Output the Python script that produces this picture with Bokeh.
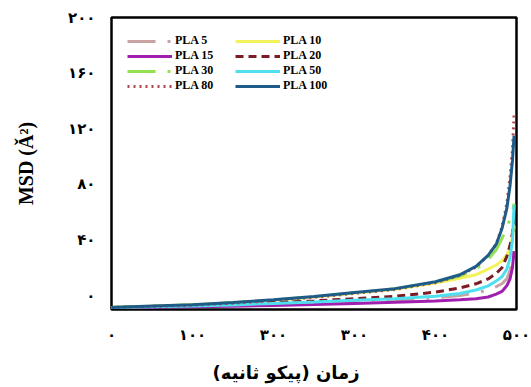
from bokeh.plotting import figure
from bokeh.models import Legend, LegendItem, FixedTicker, Title, Range1d
from bokeh.embed import file_html
from bokeh.resources import INLINE

# ---- data ----
time_ps = [0, 50, 100, 150, 200, 250, 300, 350, 400, 430, 450, 465, 475, 482, 488, 492, 495, 497]

pla5   = [-8.5, -8.0, -7.4, -6.8, -6.0, -5.2, -4.3, -3.2, -1.5, 0.0, 2.0, 4.0, 6.5, 8.5, 12, 18, 27, 40]
pla10  = [-8.5, -7.6, -6.6, -5.2, -3.3, -1.1, 1.8, 4.6, 9.0, 12.5, 15, 19, 22, 25, 29, 35, 42, 50]
pla15  = [-8.5, -8.3, -8.0, -7.6, -7.1, -6.4, -5.6, -4.8, -3.8, -3.0, -2.2, -1.0, 1.0, 3.0, 7.0, 12, 20, 32]
pla20  = [-8.5, -7.8, -7.0, -6.2, -5.0, -3.8, -2.2, -0.5, 2.5, 5.5, 8.5, 12, 16, 20, 28, 36, 45, 55]
pla30  = [-8.5, -7.6, -6.6, -5.1, -3.2, -0.9, 2.0, 4.9, 9.6, 14, 19, 26, 33, 41, 49, 55, 60, 66]
pla50  = [-8.5, -8.0, -7.5, -6.7, -5.6, -4.6, -3.4, -2.3, -0.5, 1.5, 4.0, 7.0, 10.5, 13.5, 19, 27, 40, 65]
pla80  = [-8.5, -7.8, -6.9, -5.5, -3.6, -1.3, 1.6, 4.4, 9.3, 14.5, 20.5, 29, 37, 49, 66, 85, 105, 130]
pla100 = [-8.5, -7.5, -6.5, -5.0, -3.0, -0.7, 2.2, 5.0, 10.0, 15.0, 21, 29, 37, 48, 62.5, 79, 97, 115]

series_names = ["PLA 5", "PLA 10", "PLA 15", "PLA 20", "PLA 30", "PLA 50", "PLA 80", "PLA 100"]
series_values = [pla5, pla10, pla15, pla20, pla30, pla50, pla80, pla100]

x_ticks = [0, 100, 200, 300, 400, 500]
x_tick_labels = ["۰", "۱۰۰", "۳۰۰", "۳۰۰", "۴۰۰", "۵۰۰"]
y_ticks = [0, 40, 80, 120, 160, 200]
y_tick_labels = ["۰", "۴۰", "۸۰", "۱۲۰", "۱۶۰", "۲۰۰"]

x_title = "زمان (پیکو ثانیه)"
y_title = "MSD (Ǎ²)"

# ---- styles ----
colors = ["#c9a3a3", "#f4f25a", "#a11fae", "#7c1c26", "#93e050", "#4fe0ef", "#b0474f", "#1f5b88"]
dashes = ["28 12 3 12", "solid", "solid", "8 5", "28 12 3 12", "solid", "2 4", "solid"]
widths = [3, 3, 3, 3, 3, 3, 3, 3]

p = figure(width=531, height=387, output_backend="svg", toolbar_location=None,
           x_range=Range1d(0, 500), y_range=Range1d(-10, 200),
           min_border_left=111, min_border_right=15, min_border_top=17, min_border_bottom=78,
           background_fill_color="white", border_fill_color="white")

p.grid.visible = False
p.outline_line_color = "black"
p.outline_line_width = 2.5

items = []
for name, vals, c, d, w in zip(series_names, series_values, colors, dashes, widths):
    r = p.line(time_ps, vals, line_color=c, line_width=w, line_dash=d)
    items.append(LegendItem(label=name, renderers=[r]))

legend = Legend(items=items, location="top_left", orientation="horizontal", ncols=2,
                glyph_width=45, glyph_height=12, label_height=12, label_width=60,
                label_standoff=3, spacing=0, margin=16, padding=0,
                label_text_font="Liberation Serif", label_text_font_style="bold",
                label_text_font_size="12px", label_text_color="black",
                border_line_color=None, background_fill_alpha=0)
p.add_layout(legend)

for ax in (p.xaxis[0], p.yaxis[0]):
    ax.axis_line_color = None
    ax.major_tick_line_color = None
    ax.minor_tick_line_color = None
    ax.major_label_text_font = "DejaVu Sans"
    ax.major_label_text_font_style = "bold"
    ax.major_label_text_font_size = "15px"
    ax.major_label_text_color = "black"

p.xaxis.ticker = FixedTicker(ticks=x_ticks)
p.xaxis.major_label_overrides = {t: l for t, l in zip(x_ticks, x_tick_labels)}
p.xaxis.major_label_standoff = 10
# empty spacer label under the tick labels, pushes the title further down
p.xaxis.axis_label = "\u00a0"
p.xaxis.axis_label_text_font_size = "6px"
p.xaxis.axis_label_standoff = 0

p.yaxis.ticker = FixedTicker(ticks=y_ticks)
p.yaxis.major_label_overrides = {t: l for t, l in zip(y_ticks, y_tick_labels)}
p.yaxis.major_label_standoff = 10
p.yaxis.axis_label = y_title
p.yaxis.axis_label_text_font = "Liberation Serif"
p.yaxis.axis_label_text_font_style = "bold"
p.yaxis.axis_label_text_font_size = "20px"
p.yaxis.axis_label_text_color = "black"
p.yaxis.axis_label_standoff = 28

xt = Title(text=x_title, align="left", offset=101, standoff=8,
           text_font="DejaVu Sans", text_font_style="bold", text_font_size="18px",
           text_color="black")
p.add_layout(xt, "below")

open("out.html", "w").write(file_html(p, INLINE))
